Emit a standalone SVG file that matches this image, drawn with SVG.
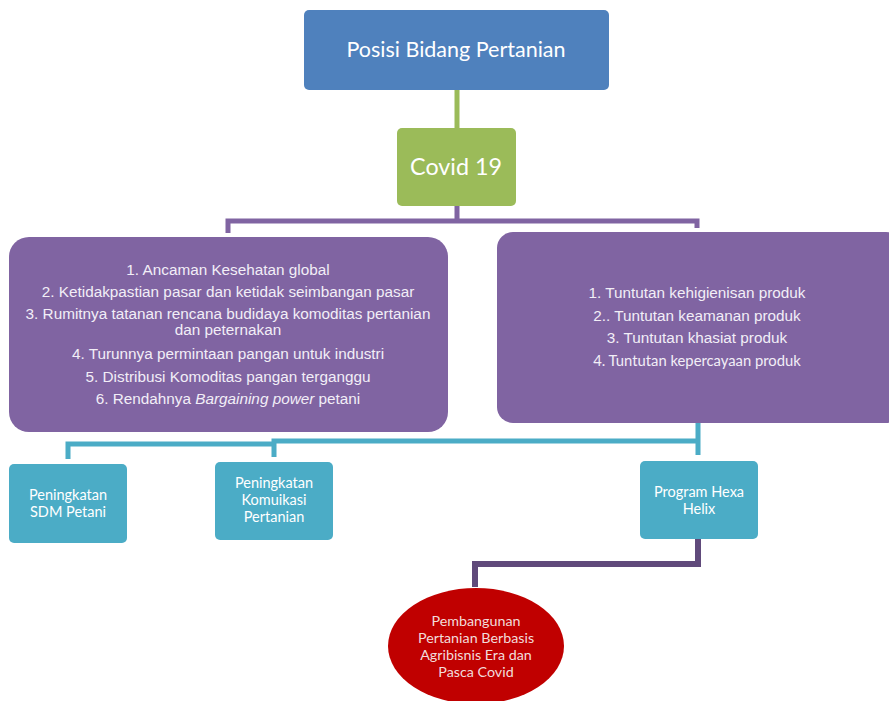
<svg xmlns="http://www.w3.org/2000/svg" width="889" height="701" viewBox="0 0 889 701">
<style>
.cal{font-family:Lato,"Open Sans","Noto Sans",sans-serif;fill:#fff;text-anchor:middle}
.ar{font-family:"Liberation Sans",Arial,sans-serif;fill:#f2eef7;text-anchor:middle;font-size:15.3px}
.sm{font-size:14.5px}
.el{font-size:14.3px;fill:#F2DCDB}
.purple{fill:#8064A2}
.cyan{fill:#4BACC6}
.cyanl{stroke:#4BACC6;stroke-width:5;fill:none}
.purl{stroke:#8064A2;stroke-width:5;fill:none}
</style>
<rect width="889" height="701" fill="#fff"/>
<g id="connectors">
<line x1="457" y1="90" x2="457" y2="128" stroke="#9BBB59" stroke-width="5"/>
<path class="purl" d="M457 206 V221 M228 233 V221 H697 V228"/>
<path class="cyanl" d="M698 423 V455 M698 441 H274 V457 M274 444 H68 V459"/>
<path d="M698 539 V564 H475 V587" stroke="#604A7B" stroke-width="6" fill="none"/>
</g>
<g id="posisi">
<rect x="304" y="10" width="305" height="80" rx="5" fill="#4F81BD"/>
<text class="cal" x="456" y="57" font-size="21.5">Posisi Bidang Pertanian</text>
</g>
<g id="covid">
<rect x="397" y="128" width="119" height="78" rx="5" fill="#9BBB59"/>
<text class="cal" x="456" y="175" font-size="23.3">Covid 19</text>
</g>
<g id="dampak">
<rect class="purple" x="9" y="237" width="439" height="195" rx="20"/>
<text class="ar" x="228" y="275">1. Ancaman Kesehatan global</text>
<text class="ar" x="228" y="297">2. Ketidakpastian pasar dan ketidak seimbangan pasar</text>
<text class="ar" x="228" y="319">3. Rumitnya tatanan rencana budidaya  komoditas pertanian</text>
<text class="ar" x="228" y="335">dan peternakan</text>
<text class="ar" x="228" y="359">4. Turunnya permintaan pangan untuk industri</text>
<text class="ar" x="228" y="382">5. Distribusi Komoditas pangan terganggu</text>
<text class="ar" x="228" y="404">6. Rendahnya <tspan font-style="italic">Bargaining power</tspan> petani</text>
</g>
<g id="tuntutan">
<rect class="purple" x="497" y="232" width="405" height="191" rx="16"/>
<text class="ar" x="697" y="298">1. Tuntutan kehigienisan produk</text>
<text class="ar" x="697" y="321">2.. Tuntutan keamanan produk</text>
<text class="ar" x="697" y="343">3. Tuntutan khasiat produk</text>
<text class="cal" x="697" y="366" font-size="14.8" style="fill:#f2eef7">4. Tuntutan kepercayaan produk</text>
</g>
<g id="sdm">
<rect class="cyan" x="9" y="464" width="118" height="79" rx="5"/>
<text class="cal sm" x="68" y="500">Peningkatan</text>
<text class="cal sm" x="68" y="517">SDM Petani</text>
</g>
<g id="komunikasi">
<rect class="cyan" x="215" y="462" width="118" height="78" rx="5"/>
<text class="cal sm" x="274" y="488">Peningkatan</text>
<text class="cal sm" x="274" y="505">Komuikasi</text>
<text class="cal sm" x="274" y="522">Pertanian</text>
</g>
<g id="hexa">
<rect class="cyan" x="640" y="461" width="118" height="78" rx="5"/>
<text class="cal sm" x="699" y="497">Program Hexa</text>
<text class="cal sm" x="699" y="514">Helix</text>
</g>
<g id="pembangunan">
<ellipse cx="476" cy="646" rx="88" ry="58" fill="#C00000"/>
<text class="cal el" x="476" y="626">Pembangunan</text>
<text class="cal el" x="476" y="643">Pertanian Berbasis</text>
<text class="cal el" x="476" y="660">Agribisnis Era dan</text>
<text class="cal el" x="476" y="677">Pasca Covid</text>
</g>
</svg>
